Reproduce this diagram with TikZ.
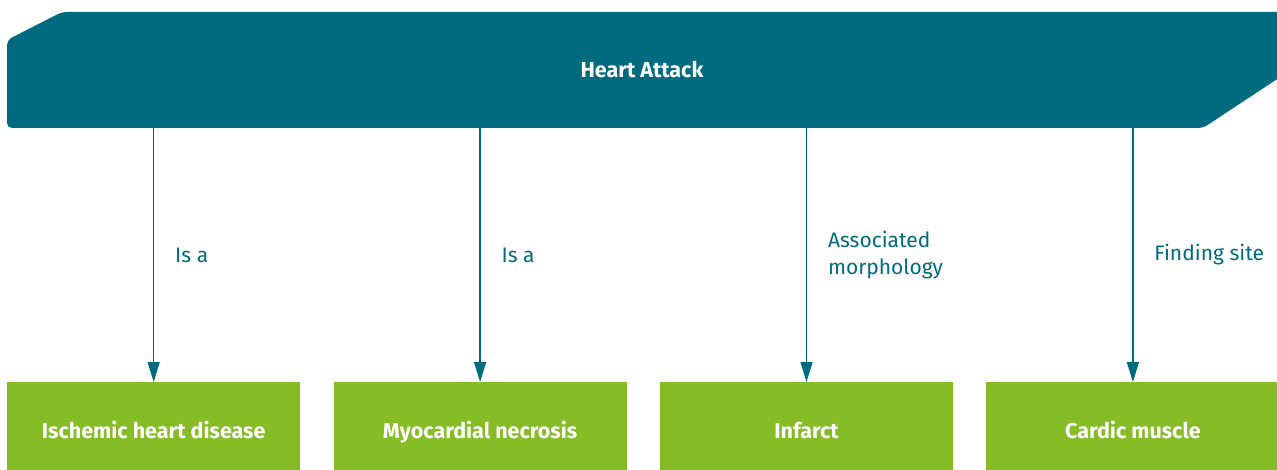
\documentclass[tikz,border=0pt]{standalone}
\usepackage{fontspec}
\setmainfont{Fira Sans}
\usetikzlibrary{arrows.meta,positioning}
\definecolor{teal}{RGB}{0,107,127}
\definecolor{leaf}{RGB}{134,188,37}
\tikzset{
 conceptbox/.style={fill=leaf,text=white,font=\bfseries\fontsize{21.5}{24}\selectfont,minimum width=293pt,minimum height=88pt,inner sep=0pt,text height=24pt,text depth=0pt},
 relation/.style={draw=teal,line width=1.3pt,-{Triangle[length=20pt,width=12pt]}},
 rellabel/.style={text=teal,font=\fontsize{21}{27}\selectfont,align=left,anchor=west}
}
\begin{document}
\begin{tikzpicture}[x=1pt,y=-1pt]
 \useasboundingbox (0,0) rectangle (1277,470);
 \fill[teal,rounded corners=5pt] (7,128)--(7,40)--(62,12)--(1300,12)--(1300,64)--(1203,128)--cycle; %banner
 \node[text=white,font=\bfseries\fontsize{21.5}{24}\selectfont] (heart) at (642,70) {Heart Attack};
 \node[conceptbox,anchor=north west] (ischemic) at (7,382) {Ischemic heart disease};
 \node[conceptbox,right=33pt of ischemic] (necrosis) {Myocardial necrosis};
 \node[conceptbox,right=33pt of necrosis] (infarct) {Infarct};
 \node[conceptbox,right=33pt of infarct] (muscle) {Cardic muscle};
 \foreach \b/\t in {ischemic/Is a,necrosis/Is a,infarct/{Associated\\morphology},muscle/Finding site}{
  \coordinate (top-\b) at (\b.north |- 0,128);
  \draw[relation] (top-\b)--(\b.north);
  \node[rellabel] (lab-\b) at ([xshift=18pt]\b.north |- 0,255) {\t};
 }
\end{tikzpicture}
\end{document}
